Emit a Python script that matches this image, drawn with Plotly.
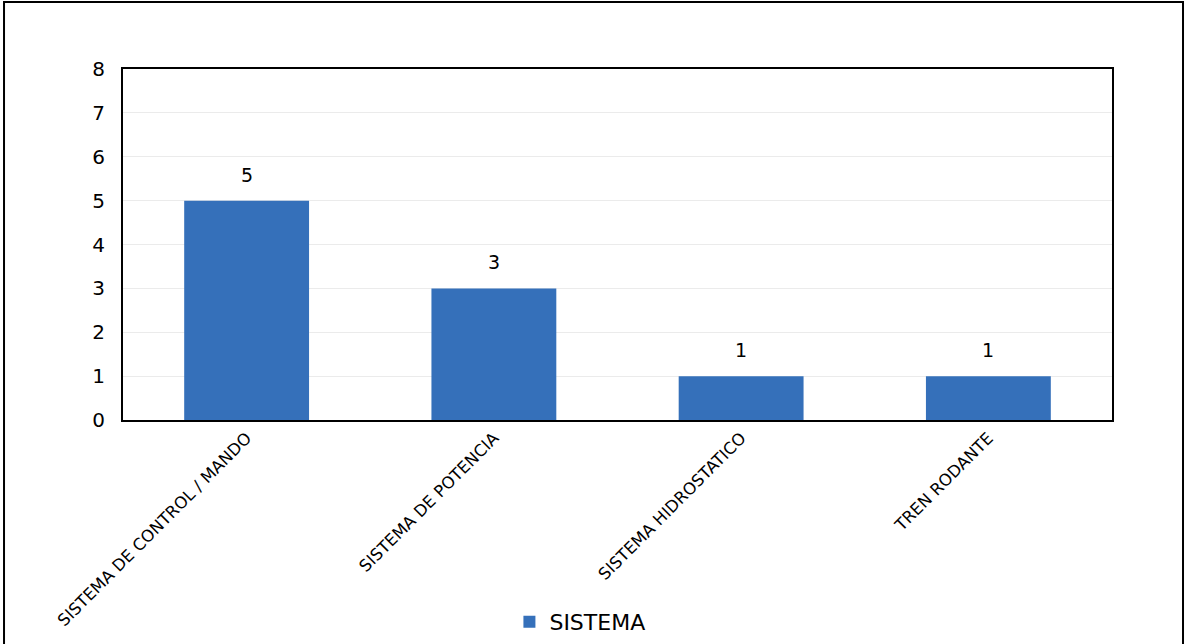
import plotly.graph_objects as go

categories = ["SISTEMA DE CONTROL / MANDO", "SISTEMA DE POTENCIA", "SISTEMA HIDROSTATICO", "TREN RODANTE"]
values = [5, 3, 1, 1]
series_name = "SISTEMA"
y_ticks = [0, 1, 2, 3, 4, 5, 6, 7, 8]

FONT = "DejaVu Sans"

fig = go.Figure()
fig.add_trace(go.Bar(
    x=categories, y=values, name=series_name,
    marker=dict(color="#3570BA", line=dict(width=0)),
    showlegend=True,
))

annotations = [
    dict(x=c, y=v, xref="x", yref="y", text=str(v), showarrow=False,
         yanchor="bottom", yshift=13, font=dict(family=FONT, size=19, color="#000000"))
    for c, v in zip(categories, values)
]

fig.update_layout(
    width=1187, height=644,
    margin=dict(l=123, r=75, t=69, b=224, autoexpand=False),
    paper_bgcolor="white", plot_bgcolor="white",
    font=dict(family=FONT, color="#000000"),
    bargap=0.495,
    showlegend=True,
    legend=dict(orientation="h", x=0.462, y=-0.575, xanchor="center", yanchor="middle",
                font=dict(family=FONT, size=22), itemwidth=30),
    xaxis=dict(
        tickangle=-45, tickfont=dict(family=FONT, size=16.5), automargin=False,
        showline=True, linecolor="#000000", linewidth=2, mirror=True,
        showgrid=False, ticks="",
    ),
    yaxis=dict(
        range=[0, 8], tickvals=y_ticks, tickfont=dict(family=FONT, size=20), automargin=False,
        showline=True, linecolor="#000000", linewidth=2, mirror=True,
        showgrid=True, gridcolor="#EBEBEB", gridwidth=1, zeroline=False,
        ticks="", ticklabelstandoff=12,
    ),
    annotations=annotations,
    shapes=[dict(type="rect", xref="paper", yref="paper",
                 x0=-0.1203, x1=1.0718, y0=-0.7, y1=1.1909,
                 line=dict(color="#000000", width=2), fillcolor="rgba(0,0,0,0)", layer="below")],
)

fig.write_html("out.html")
